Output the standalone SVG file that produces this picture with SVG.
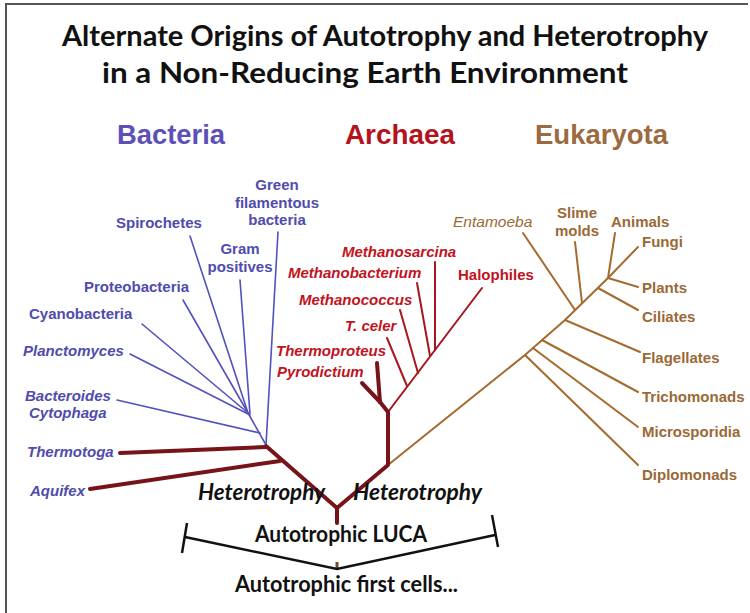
<svg xmlns="http://www.w3.org/2000/svg" width="750" height="613" viewBox="0 0 750 613">
<style>
.title{font-family:Lato,"Open Sans",sans-serif;font-weight:700;font-size:29px;fill:#111}
.head{font-family:"Liberation Sans",Arial,sans-serif;font-weight:700;font-size:27px}
.lbl{font-family:"Liberation Sans",Arial,sans-serif;font-weight:700;font-size:15px}
.it{font-style:italic}
.b{fill:#4f4cae}
.a{fill:#c2131d}
.e{fill:#9a6935}
.cal{font-family:Lato,"Open Sans",sans-serif;font-size:23px;font-weight:700;fill:#111}
.bl{stroke:#5251bd;stroke-width:1.6;fill:none;stroke-linecap:round}
.rl{stroke:#a8161d;stroke-width:2;fill:none;stroke-linecap:round}
.tk{stroke:#76141a;stroke-width:4;fill:none;stroke-linecap:round;stroke-linejoin:round}
.el{stroke:#a56a2e;stroke-width:2;fill:none;stroke-linecap:round}
.br{stroke:#111;stroke-width:2.5;fill:none}
</style>
<rect width="750" height="613" fill="#fff"/>
<path d="M6,613 V4 H748" stroke="#555" stroke-width="2" fill="none"/>
<g id="title">
<text class="title" x="62" y="46" textLength="646" lengthAdjust="spacingAndGlyphs">Alternate Origins of Autotrophy and Heterotrophy</text>
<text class="title" x="102" y="83" textLength="526" lengthAdjust="spacingAndGlyphs">in a Non-Reducing Earth Environment</text>
</g>
<g id="headings">
<text class="head" x="117" y="144" fill="#5c4fb8" textLength="108" lengthAdjust="spacingAndGlyphs">Bacteria</text>
<text class="head" x="345" y="144" fill="#b5121b" textLength="110" lengthAdjust="spacingAndGlyphs">Archaea</text>
<text class="head" x="535" y="144" fill="#9c6a3e" textLength="133" lengthAdjust="spacingAndGlyphs">Eukaryota</text>
</g>
<g id="connectors">
<line class="bl" x1="278" y1="232" x2="266" y2="445"/>
<line class="bl" x1="190" y1="236" x2="248" y2="413"/>
<line class="bl" x1="240" y1="280" x2="250" y2="414"/>
<line class="bl" x1="183" y1="300" x2="248" y2="413"/>
<line class="bl" x1="142" y1="324" x2="248" y2="413"/>
<line class="bl" x1="130" y1="354" x2="250" y2="415"/>
<line class="bl" x1="117" y1="400" x2="260" y2="433"/>
<line class="bl" x1="248" y1="413" x2="266" y2="445"/>
<line class="rl" x1="388" y1="412" x2="482" y2="288"/>
<line class="rl" x1="387" y1="338" x2="407" y2="386"/>
<line class="rl" x1="400" y1="310" x2="418" y2="373"/>
<line class="rl" x1="417" y1="283" x2="430" y2="356"/>
<line class="rl" x1="435" y1="262" x2="435" y2="350"/>
<polyline class="el" points="388,465 525,355 565,320 608,278 638,247"/>
<line class="el" x1="525" y1="355" x2="638" y2="465"/>
<line class="el" x1="533" y1="348" x2="638" y2="427"/>
<line class="el" x1="542" y1="340" x2="638" y2="392"/>
<line class="el" x1="565" y1="320" x2="640" y2="352"/>
<line class="el" x1="575" y1="310" x2="523" y2="233"/>
<line class="el" x1="582" y1="303" x2="575" y2="242"/>
<line class="el" x1="598" y1="288" x2="638" y2="310"/>
<line class="el" x1="608" y1="278" x2="638" y2="287"/>
<line class="el" x1="608" y1="278" x2="615" y2="233"/>
<line class="tk" x1="120" y1="453" x2="266" y2="447"/>
<line class="tk" x1="90" y1="489" x2="280" y2="461"/>
<polyline class="tk" points="266,446 337,508 388,465 388,412"/>
<line class="tk" x1="337" y1="508" x2="337" y2="523"/>
<polyline class="tk" points="362,383 380,402 388,412"/>
<line class="tk" x1="377" y1="363" x2="380" y2="402"/>
<line x1="337" y1="562" x2="337" y2="569" stroke="#7a4a22" stroke-width="3"/>
<polyline class="br" points="185,537 337,569 495,535"/>
<line class="br" x1="187" y1="523" x2="182" y2="553"/>
<line class="br" x1="492" y1="515" x2="498" y2="547"/>
</g>
<g id="bacteria">
<text class="lbl b" x="277" y="190" text-anchor="middle">Green</text>
<text class="lbl b" x="277" y="208" text-anchor="middle">filamentous</text>
<text class="lbl b" x="277" y="225" text-anchor="middle">bacteria</text>
<text class="lbl b" x="116" y="228">Spirochetes</text>
<text class="lbl b" x="240" y="254" text-anchor="middle">Gram</text>
<text class="lbl b" x="240" y="272" text-anchor="middle">positives</text>
<text class="lbl b" x="84" y="292">Proteobacteria</text>
<text class="lbl b" x="29" y="319">Cyanobacteria</text>
<text class="lbl b it" x="23" y="356">Planctomyces</text>
<text class="lbl b it" x="25" y="401">Bacteroides</text>
<text class="lbl b it" x="29" y="418">Cytophaga</text>
<text class="lbl b it" x="27" y="457">Thermotoga</text>
<text class="lbl b it" x="30" y="496">Aquifex</text>
</g>
<g id="archaea">
<text class="lbl a it" x="342" y="257">Methanosarcina</text>
<text class="lbl a it" x="288" y="278">Methanobacterium</text>
<text class="lbl a it" x="299" y="305">Methanococcus</text>
<text class="lbl a it" x="345" y="331">T. celer</text>
<text class="lbl a it" x="276" y="356">Thermoproteus</text>
<text class="lbl a it" x="277" y="377">Pyrodictium</text>
<text class="lbl a" x="458" y="280">Halophiles</text>
</g>
<g id="eukaryota">
<text class="lbl e it" x="453" y="227" style="font-weight:400;font-size:15.5px">Entamoeba</text>
<text class="lbl e" x="577" y="218" text-anchor="middle">Slime</text>
<text class="lbl e" x="577" y="236" text-anchor="middle">molds</text>
<text class="lbl e" x="611" y="227">Animals</text>
<text class="lbl e" x="642" y="247">Fungi</text>
<text class="lbl e" x="642" y="293">Plants</text>
<text class="lbl e" x="642" y="322">Ciliates</text>
<text class="lbl e" x="642" y="363">Flagellates</text>
<text class="lbl e" x="642" y="402">Trichomonads</text>
<text class="lbl e" x="642" y="437">Microsporidia</text>
<text class="lbl e" x="642" y="480">Diplomonads</text>
</g>
<g id="root">
<text class="cal" x="198" y="500" font-style="italic" textLength="127" lengthAdjust="spacingAndGlyphs">Heterotrophy</text>
<text class="cal" x="353" y="500" font-style="italic" textLength="129" lengthAdjust="spacingAndGlyphs">Heterotrophy</text>
<text class="cal" x="255" y="542" textLength="172" lengthAdjust="spacingAndGlyphs">Autotrophic LUCA</text>
<text class="cal" x="235" y="592" textLength="223" lengthAdjust="spacingAndGlyphs">Autotrophic first cells...</text>
</g>
</svg>
